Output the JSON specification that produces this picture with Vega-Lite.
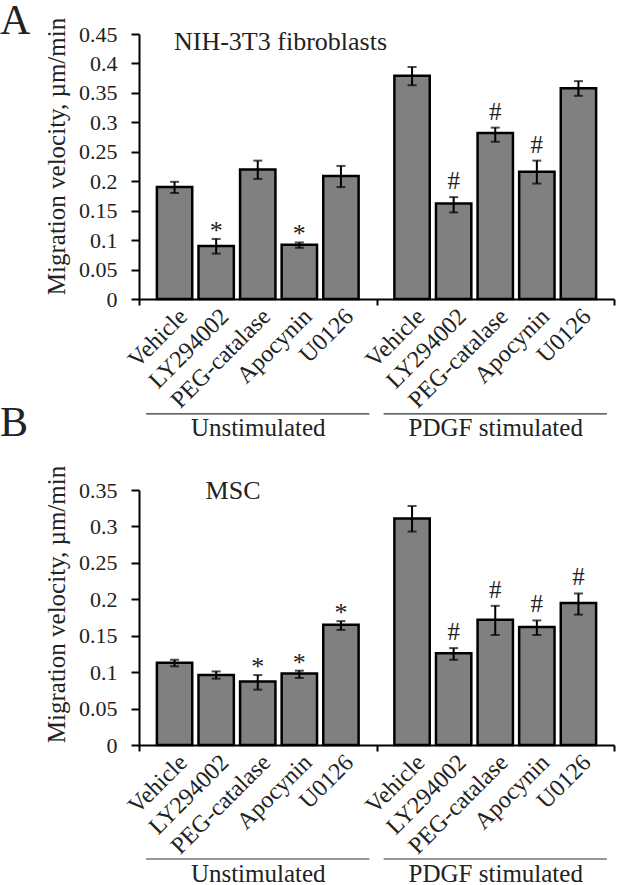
{
  "$schema": "https://vega.github.io/schema/vega-lite/v6.json",
  "background": "white",
  "padding": {"left": 0, "top": 0, "right": 5, "bottom": 0},
  "config": {
    "font": "Liberation Serif",
    "view": {"stroke": null},
    "axis": {
      "labelFont": "Liberation Serif", "titleFont": "Liberation Serif",
      "labelColor": "#222", "titleColor": "#222",
      "domainColor": "black", "tickColor": "black",
      "domainWidth": 2, "tickWidth": 2, "grid": false,
      "titleFontWeight": "normal", "labelOverlap": false
    },
    "axisY": {"tickCount": 10, "format": "~g", "labelFontSize": 22, "tickSize": 8, "labelPadding": 14, "titleFontSize": 25, "titleX": -70, "labelOverlap": false},
    "axisX": {"labelAngle": 0, "labelFontSize": 25, "labelPadding": 110, "tickSize": 6, "labelBaseline": "top"},
    "text": {"font": "Liberation Serif", "color": "#222"}
  },
  "datasets": {
    "A": [
      {"group": "Unstimulated", "treatment": "Vehicle", "v": 0.190, "lo": 0.180, "hi": 0.199, "ann": ""},
      {"group": "Unstimulated", "treatment": "LY294002", "v": 0.090, "lo": 0.077, "hi": 0.102, "ann": "*"},
      {"group": "Unstimulated", "treatment": "PEG-catalase", "v": 0.220, "lo": 0.204, "hi": 0.235, "ann": ""},
      {"group": "Unstimulated", "treatment": "Apocynin", "v": 0.092, "lo": 0.087, "hi": 0.096, "ann": "*"},
      {"group": "Unstimulated", "treatment": "U0126", "v": 0.209, "lo": 0.190, "hi": 0.226, "ann": ""},
      {"group": "PDGF stimulated", "treatment": "Vehicle", "v": 0.379, "lo": 0.363, "hi": 0.394, "ann": ""},
      {"group": "PDGF stimulated", "treatment": "LY294002", "v": 0.162, "lo": 0.147, "hi": 0.173, "ann": "#"},
      {"group": "PDGF stimulated", "treatment": "PEG-catalase", "v": 0.282, "lo": 0.267, "hi": 0.291, "ann": "#"},
      {"group": "PDGF stimulated", "treatment": "Apocynin", "v": 0.216, "lo": 0.196, "hi": 0.235, "ann": "#"},
      {"group": "PDGF stimulated", "treatment": "U0126", "v": 0.358, "lo": 0.345, "hi": 0.370, "ann": ""}
    ],
    "B": [
      {"group": "Unstimulated", "treatment": "Vehicle", "v": 0.113, "lo": 0.108, "hi": 0.117, "ann": ""},
      {"group": "Unstimulated", "treatment": "LY294002", "v": 0.096, "lo": 0.091, "hi": 0.101, "ann": ""},
      {"group": "Unstimulated", "treatment": "PEG-catalase", "v": 0.087, "lo": 0.076, "hi": 0.096, "ann": "*"},
      {"group": "Unstimulated", "treatment": "Apocynin", "v": 0.098, "lo": 0.092, "hi": 0.102, "ann": "*"},
      {"group": "Unstimulated", "treatment": "U0126", "v": 0.165, "lo": 0.158, "hi": 0.170, "ann": "*"},
      {"group": "PDGF stimulated", "treatment": "Vehicle", "v": 0.311, "lo": 0.293, "hi": 0.328, "ann": ""},
      {"group": "PDGF stimulated", "treatment": "LY294002", "v": 0.126, "lo": 0.117, "hi": 0.133, "ann": "#"},
      {"group": "PDGF stimulated", "treatment": "PEG-catalase", "v": 0.172, "lo": 0.151, "hi": 0.191, "ann": "#"},
      {"group": "PDGF stimulated", "treatment": "Apocynin", "v": 0.162, "lo": 0.151, "hi": 0.171, "ann": "#"},
      {"group": "PDGF stimulated", "treatment": "U0126", "v": 0.195, "lo": 0.179, "hi": 0.208, "ann": "#"}
    ]
  },
  "bounds": "flush",
  "spacing": 191,
  "vconcat": [
    {
      "width": 475,
      "height": 265,
      "data": {"name": "A"},
      "title": {"text": "A", "anchor": "start", "frame": "bounds", "fontSize": 42, "font": "Liberation Serif", "fontWeight": "normal", "color": "#222", "baseline": "alphabetic", "dx": -44, "offset": -59},
      "layer": [
        {
          "mark": {"type": "bar", "fill": "#808080", "stroke": "black", "strokeWidth": 2.5},
          "encoding": {
            "x": {"field": "group", "type": "nominal", "sort": ["Unstimulated", "PDGF stimulated"],
                  "scale": {"paddingInner": 0, "paddingOuter": 0},
                  "axis": {"title": null, "tickBand": "extent"}},
            "xOffset": {"field": "treatment", "type": "nominal", "sort": ["Vehicle", "LY294002", "PEG-catalase", "Apocynin", "U0126"], "scale": {"paddingInner": 0.15, "paddingOuter": 0.43}},
            "y": {"field": "v", "type": "quantitative", "scale": {"domain": [0, 0.45], "nice": false},
                  "axis": {"title": "Migration velocity, µm/min", "titleY": 122, "labelPadding": 14, "tickSize": 8, "values": [0, 0.05, 0.1, 0.15, 0.2, 0.25, 0.3, 0.35, 0.4, 0.45]}}
          }
        },
        {
          "mark": {"type": "rule", "color": "black", "strokeWidth": 2},
          "encoding": {
            "x": {"field": "group", "type": "nominal", "sort": ["Unstimulated", "PDGF stimulated"]},
            "xOffset": {"field": "treatment", "type": "nominal", "sort": ["Vehicle", "LY294002", "PEG-catalase", "Apocynin", "U0126"]},
            "y": {"field": "lo", "type": "quantitative"},
            "y2": {"field": "hi"}
          }
        },
        {
          "mark": {"type": "tick", "color": "black", "size": 9, "thickness": 2, "orient": "horizontal"},
          "encoding": {
            "x": {"field": "group", "type": "nominal", "sort": ["Unstimulated", "PDGF stimulated"]},
            "xOffset": {"field": "treatment", "type": "nominal", "sort": ["Vehicle", "LY294002", "PEG-catalase", "Apocynin", "U0126"]},
            "y": {"field": "lo", "type": "quantitative"}
          }
        },
        {
          "mark": {"type": "tick", "color": "black", "size": 9, "thickness": 2, "orient": "horizontal"},
          "encoding": {
            "x": {"field": "group", "type": "nominal", "sort": ["Unstimulated", "PDGF stimulated"]},
            "xOffset": {"field": "treatment", "type": "nominal", "sort": ["Vehicle", "LY294002", "PEG-catalase", "Apocynin", "U0126"]},
            "y": {"field": "hi", "type": "quantitative"}
          }
        },
        {
          "transform": [{"filter": "datum.ann === '*'"}],
          "mark": {"type": "text", "fontSize": 26, "baseline": "alphabetic", "dy": 0},
          "encoding": {
            "x": {"field": "group", "type": "nominal", "sort": ["Unstimulated", "PDGF stimulated"]},
            "xOffset": {"field": "treatment", "type": "nominal", "sort": ["Vehicle", "LY294002", "PEG-catalase", "Apocynin", "U0126"]},
            "y": {"field": "hi", "type": "quantitative"},
            "text": {"field": "ann"}
          }
        },
        {
          "transform": [{"filter": "datum.ann === '#'"}],
          "mark": {"type": "text", "fontSize": 25, "baseline": "alphabetic", "dy": -8},
          "encoding": {
            "x": {"field": "group", "type": "nominal", "sort": ["Unstimulated", "PDGF stimulated"]},
            "xOffset": {"field": "treatment", "type": "nominal", "sort": ["Vehicle", "LY294002", "PEG-catalase", "Apocynin", "U0126"]},
            "y": {"field": "hi", "type": "quantitative"},
            "text": {"field": "ann"}
          }
        },
        {
          "mark": {"type": "text", "fontSize": 24, "angle": 315, "align": "right", "baseline": "middle", "radius": 16.6, "theta": 2.57},
          "encoding": {
            "x": {"field": "group", "type": "nominal", "sort": ["Unstimulated", "PDGF stimulated"]},
            "xOffset": {"field": "treatment", "type": "nominal", "sort": ["Vehicle", "LY294002", "PEG-catalase", "Apocynin", "U0126"]},
            "y": {"datum": 0},
            "text": {"field": "treatment"}
          }
        },
        {
          "transform": [{"filter": "datum.treatment === 'Vehicle'"}],
          "mark": {"type": "rule", "color": "#333", "strokeWidth": 1.2},
          "encoding": {
            "x": {"field": "group", "type": "nominal", "sort": ["Unstimulated", "PDGF stimulated"], "bandPosition": 0.03},
            "x2": {"field": "group", "bandPosition": 0.97},
            "y": {"datum": -0.195}
          }
        },
        {
          "data": {"values": [{"label": "NIH-3T3 fibroblasts"}]},
          "mark": {"type": "text", "fontSize": 26, "align": "left", "baseline": "alphabetic", "dx": 35},
          "encoding": {
            "x": {"datum": "Unstimulated", "bandPosition": 0},
            "y": {"datum": 0.423},
            "text": {"field": "label"}
          }
        }
      ]
    },
    {
      "width": 475,
      "height": 255,
      "data": {"name": "B"},
      "title": {"text": "B", "anchor": "start", "frame": "bounds", "fontSize": 42, "font": "Liberation Serif", "fontWeight": "normal", "color": "#222", "baseline": "alphabetic", "dx": -44, "offset": -13},
      "layer": [
        {
          "mark": {"type": "bar", "fill": "#808080", "stroke": "black", "strokeWidth": 2.5},
          "encoding": {
            "x": {"field": "group", "type": "nominal", "sort": ["Unstimulated", "PDGF stimulated"],
                  "scale": {"paddingInner": 0, "paddingOuter": 0},
                  "axis": {"title": null, "tickBand": "extent"}},
            "xOffset": {"field": "treatment", "type": "nominal", "sort": ["Vehicle", "LY294002", "PEG-catalase", "Apocynin", "U0126"], "scale": {"paddingInner": 0.15, "paddingOuter": 0.43}},
            "y": {"field": "v", "type": "quantitative", "scale": {"domain": [0, 0.35], "nice": false},
                  "axis": {"title": "Migration velocity, µm/min", "titleY": 114, "labelPadding": 14, "tickSize": 8, "values": [0, 0.05, 0.1, 0.15, 0.2, 0.25, 0.3, 0.35]}}
          }
        },
        {
          "mark": {"type": "rule", "color": "black", "strokeWidth": 2},
          "encoding": {
            "x": {"field": "group", "type": "nominal", "sort": ["Unstimulated", "PDGF stimulated"]},
            "xOffset": {"field": "treatment", "type": "nominal", "sort": ["Vehicle", "LY294002", "PEG-catalase", "Apocynin", "U0126"]},
            "y": {"field": "lo", "type": "quantitative"},
            "y2": {"field": "hi"}
          }
        },
        {
          "mark": {"type": "tick", "color": "black", "size": 9, "thickness": 2, "orient": "horizontal"},
          "encoding": {
            "x": {"field": "group", "type": "nominal", "sort": ["Unstimulated", "PDGF stimulated"]},
            "xOffset": {"field": "treatment", "type": "nominal", "sort": ["Vehicle", "LY294002", "PEG-catalase", "Apocynin", "U0126"]},
            "y": {"field": "lo", "type": "quantitative"}
          }
        },
        {
          "mark": {"type": "tick", "color": "black", "size": 9, "thickness": 2, "orient": "horizontal"},
          "encoding": {
            "x": {"field": "group", "type": "nominal", "sort": ["Unstimulated", "PDGF stimulated"]},
            "xOffset": {"field": "treatment", "type": "nominal", "sort": ["Vehicle", "LY294002", "PEG-catalase", "Apocynin", "U0126"]},
            "y": {"field": "hi", "type": "quantitative"}
          }
        },
        {
          "transform": [{"filter": "datum.ann === '*'"}],
          "mark": {"type": "text", "fontSize": 26, "baseline": "alphabetic", "dy": 0},
          "encoding": {
            "x": {"field": "group", "type": "nominal", "sort": ["Unstimulated", "PDGF stimulated"]},
            "xOffset": {"field": "treatment", "type": "nominal", "sort": ["Vehicle", "LY294002", "PEG-catalase", "Apocynin", "U0126"]},
            "y": {"field": "hi", "type": "quantitative"},
            "text": {"field": "ann"}
          }
        },
        {
          "transform": [{"filter": "datum.ann === '#'"}],
          "mark": {"type": "text", "fontSize": 25, "baseline": "alphabetic", "dy": -8},
          "encoding": {
            "x": {"field": "group", "type": "nominal", "sort": ["Unstimulated", "PDGF stimulated"]},
            "xOffset": {"field": "treatment", "type": "nominal", "sort": ["Vehicle", "LY294002", "PEG-catalase", "Apocynin", "U0126"]},
            "y": {"field": "hi", "type": "quantitative"},
            "text": {"field": "ann"}
          }
        },
        {
          "mark": {"type": "text", "fontSize": 24, "angle": 315, "align": "right", "baseline": "middle", "radius": 16.6, "theta": 2.57},
          "encoding": {
            "x": {"field": "group", "type": "nominal", "sort": ["Unstimulated", "PDGF stimulated"]},
            "xOffset": {"field": "treatment", "type": "nominal", "sort": ["Vehicle", "LY294002", "PEG-catalase", "Apocynin", "U0126"]},
            "y": {"datum": 0},
            "text": {"field": "treatment"}
          }
        },
        {
          "transform": [{"filter": "datum.treatment === 'Vehicle'"}],
          "mark": {"type": "rule", "color": "#333", "strokeWidth": 1.2},
          "encoding": {
            "x": {"field": "group", "type": "nominal", "sort": ["Unstimulated", "PDGF stimulated"], "bandPosition": 0.03},
            "x2": {"field": "group", "bandPosition": 0.97},
            "y": {"datum": -0.1565}
          }
        },
        {
          "data": {"values": [{"label": "MSC"}]},
          "mark": {"type": "text", "fontSize": 26, "align": "center", "baseline": "alphabetic", "dx": 94},
          "encoding": {
            "x": {"datum": "Unstimulated", "bandPosition": 0},
            "y": {"datum": 0.338},
            "text": {"field": "label"}
          }
        }
      ]
    }
  ]
}
